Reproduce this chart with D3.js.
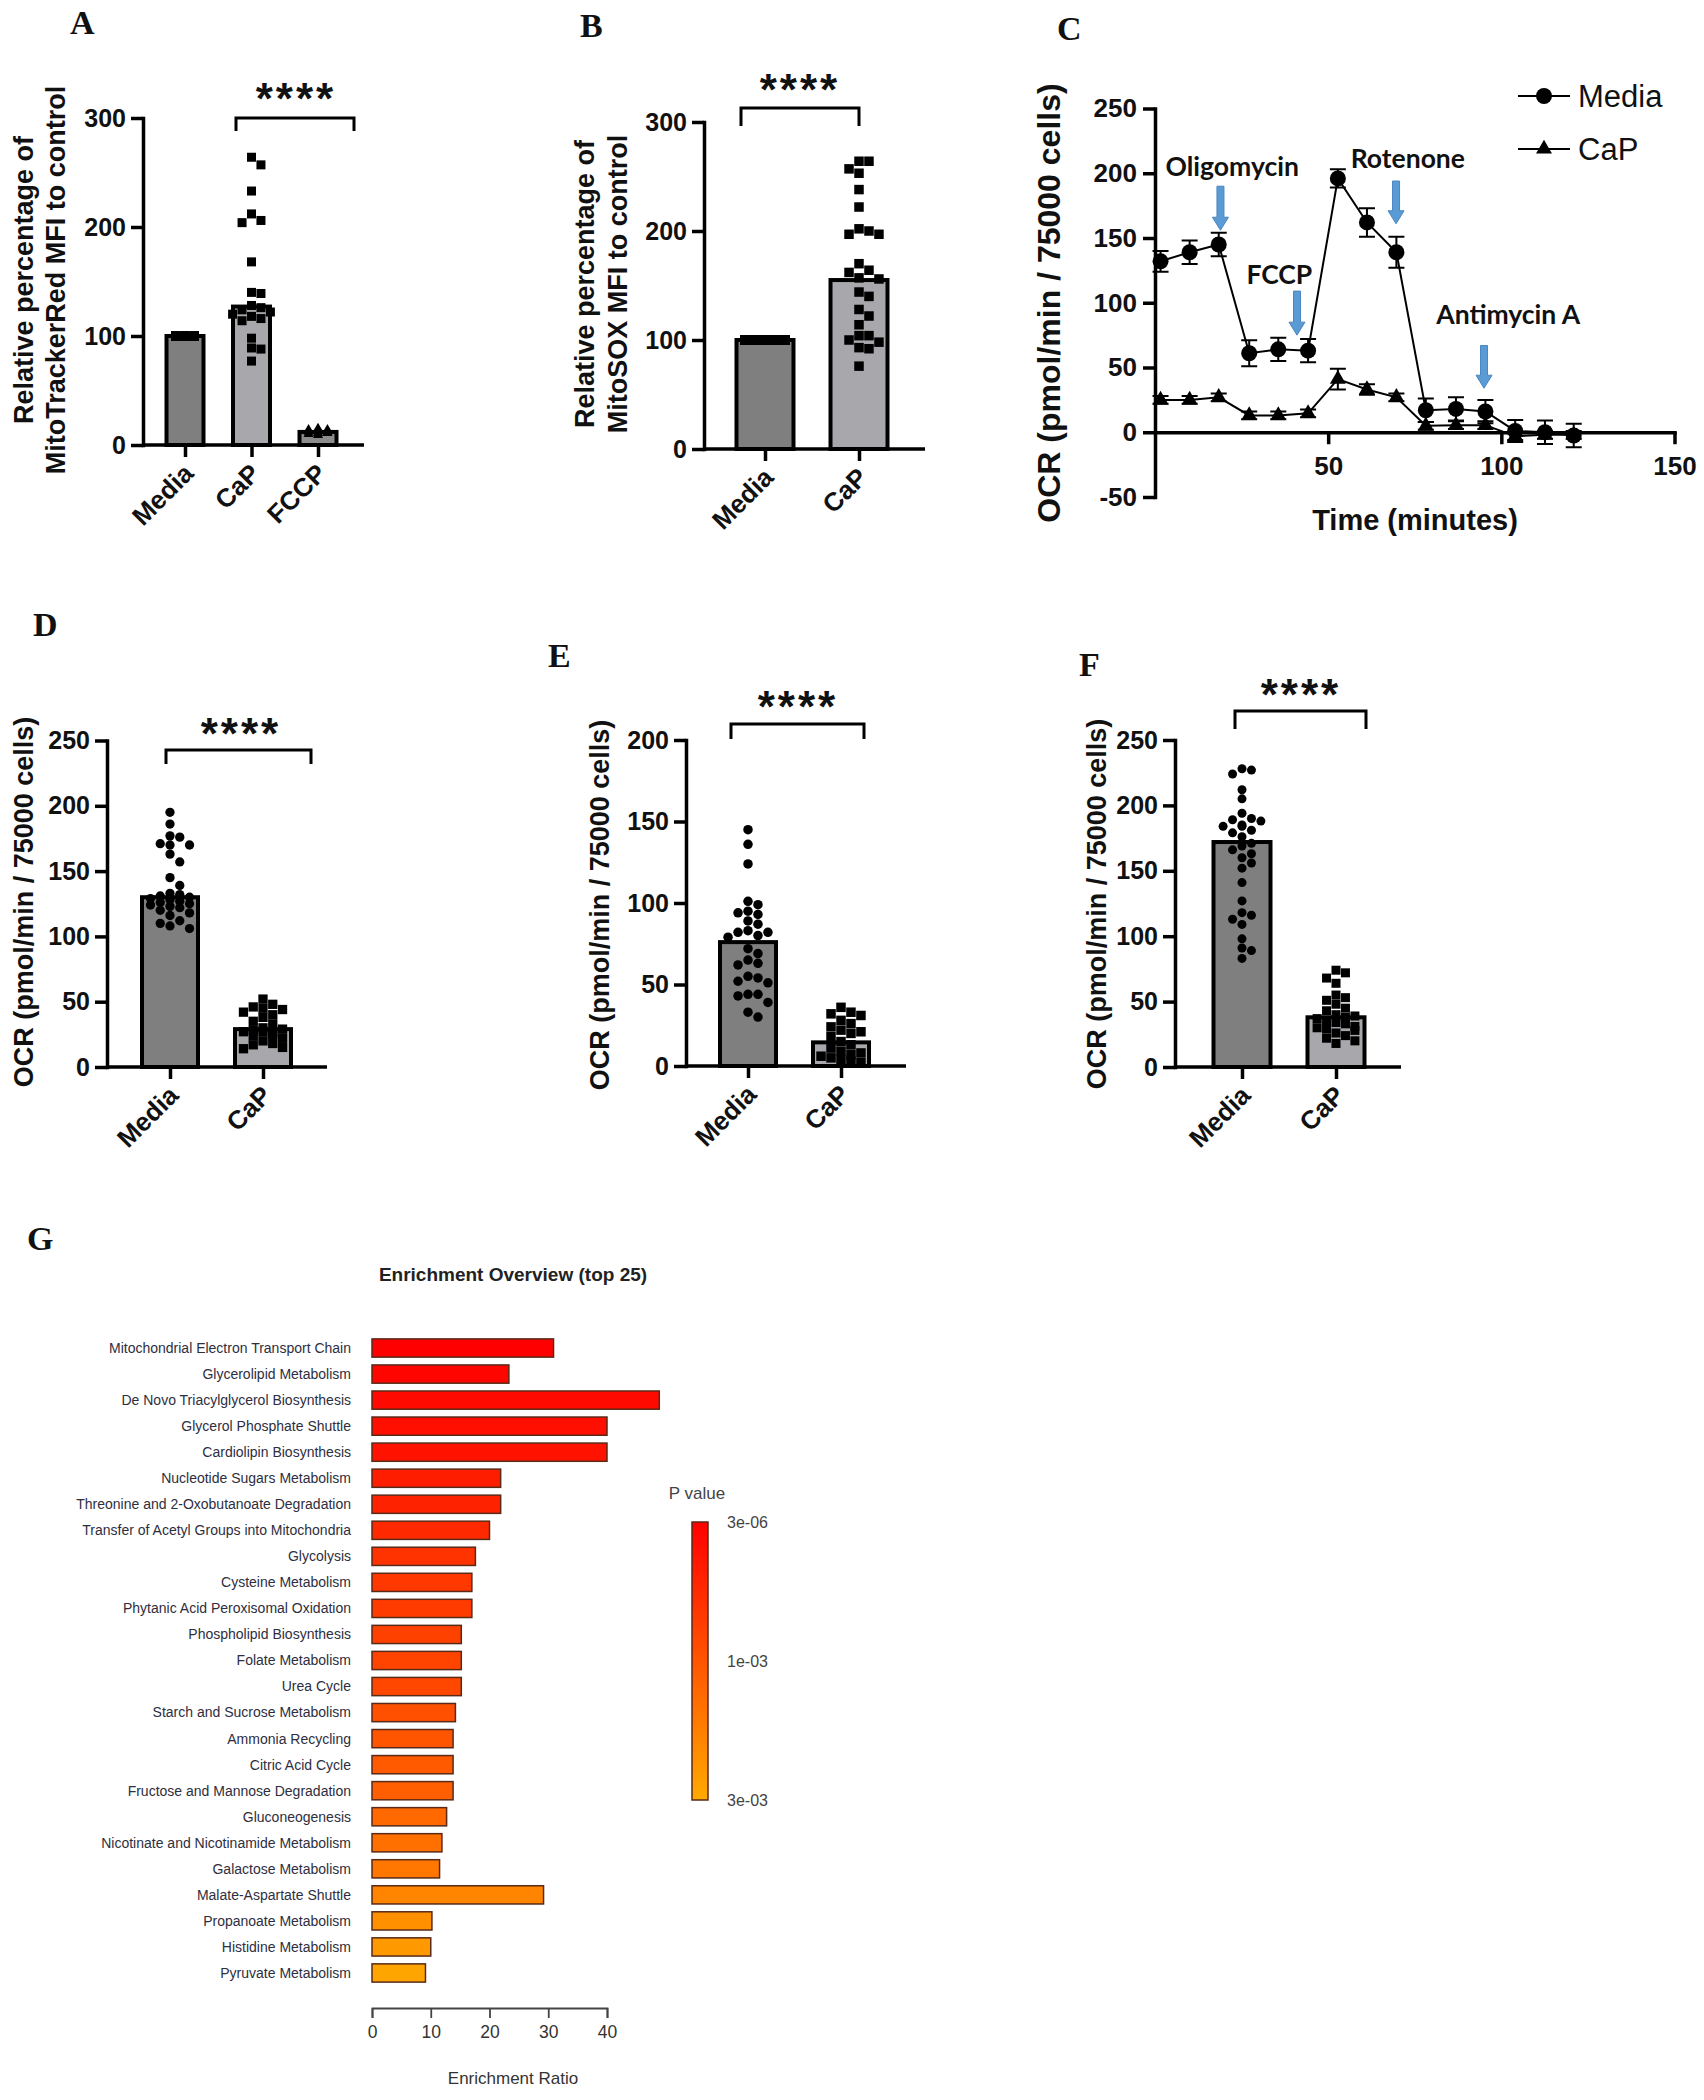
<!DOCTYPE html>
<html><head><meta charset="utf-8">
<script src="https://cdn.jsdelivr.net/npm/d3@7"></script>
<style>body{margin:0;background:#fff}svg{display:block}</style>
</head><body>
<svg id="fig" width="1704" height="2100"></svg>
<script>
// ---------------- DATA ----------------
const groups2 = ["Media", "CaP"];
const groups3 = ["Media", "CaP", "FCCP"];

// Panel A: MitoTrackerRed (% of control)
const aBars = [100, 127, 12];
const aMedia = [100,100,100,100,100,100,100,100,100,100,100,100,100,100,100,100,100,100,100,100,100];
const aCaP = [264,257,233,212,206,204,168,140,139,128,126,124,122,120,118,116,114,98,89,88,77];
const aFCCP = [14,12,15,11,13,10,12,14,9,11];
const aTicks = [0,100,200,300];

// Panel B: MitoSOX (% of control)
const bBars = [100, 155];
const bMedia = [100,100,100,100,100,100,100,100,100,100,100,100,100,100,100,100,100,100,100,100,100,100,100,100,100,100,100];
const bCaP = [264,264,257,253,238,222,202,200,197,197,170,164,162,157,156,144,140,128,122,114,104,104,100,98,93,92,76];
const bTicks = [0,100,200,300];

// Panel C: OCR time course
const cTime = [1.6,10,18.4,27.2,35.6,44.2,52.8,61.2,69.7,78.2,86.9,95.4,104,112.6,120.9];
const cMedia = [132,139,145,61,64,63,196,162,139,17,18,16,1,0,-2.5];
const cMediaErr = [8,9,9,10,9,9,7,11,12,9,9,9,8.5,9,9];
const cCaP = [25,25,27,13,13,14.6,41,33,27,5,5.5,5.5,-3,-2,-2];
const cCaPErr = [3,3,3,3,3,3,8,4,3,3,3,3,3,3,3];
const cYTicks = [-50,0,50,100,150,200,250];
const cXTicks = [50,100,150];
const cInjections = ["Oligomycin","FCCP","Rotenone","Antimycin A"];
const cInjTime = [18.9, 41, 69.6, 95];
const cArrowTop = [190, 109, 194, 67];
const cArrowBottom = [156, 75, 161, 34];
const cLabelTime = [22.3, 35.9, 73, 102];
const cLabelVal = [205, 122, 211, 91];

// Panel D: basal OCR
const dBars = [130, 29];
const dMedia = [195,186,177,176,171,170,170,163,157,145,139,133,132,131,130,129,128,127,126,125,124,123,122,120,118,116,112,110,108,106];
const dCaP = [52,48,46,45,44,42,40,38,35,33,30,29,28,27,27,26,25,24,22,20,18,17,15,14];
const dTicks = [0,50,100,150,200,250];

// Panel E: ATP-linked OCR
const eBars = [76, 14.5];
const eMedia = [145,136,124,101,99,95,94,93,89,87,83,82,82,80,79,72,69,65,63,62,55,54,52,51,44,44,43,39,33,30];
const eCaP = [36,33,32,31,28,26,24,22,21,20,18,15,13,11,9,8,7,6,5,4,3,2];
const eTicks = [0,50,100,150,200];

// Panel F: maximal OCR
const fBars = [172, 38];
const fMedia = [228,227,224,212,205,194,190,189,188,185,184,184,181,179,176,171,169,166,163,160,156,152,141,127,118,116,113,109,98,91,89,83];
const fCaP = [74,72,68,64,55,53,51,48,45,43,40,39,38,37,35,34,33,31,30,29,28,26,24,22,20,18];
const fTicks = [0,50,100,150,200,250];

// Panel G: enrichment overview
const gPathways = ["Mitochondrial Electron Transport Chain","Glycerolipid Metabolism","De Novo Triacylglycerol Biosynthesis","Glycerol Phosphate Shuttle","Cardiolipin Biosynthesis","Nucleotide Sugars Metabolism","Threonine and 2-Oxobutanoate Degradation","Transfer of Acetyl Groups into Mitochondria","Glycolysis","Cysteine Metabolism","Phytanic Acid Peroxisomal Oxidation","Phospholipid Biosynthesis","Folate Metabolism","Urea Cycle","Starch and Sucrose Metabolism","Ammonia Recycling","Citric Acid Cycle","Fructose and Mannose Degradation","Gluconeogenesis","Nicotinate and Nicotinamide Metabolism","Galactose Metabolism","Malate-Aspartate Shuttle","Propanoate Metabolism","Histidine Metabolism","Pyruvate Metabolism"];
const gRatio = [30.9,23.3,48.9,40,40,21.9,21.9,20,17.6,17,17,15.2,15.2,15.2,14.2,13.8,13.8,13.8,12.7,11.9,11.5,29.2,10.2,10.0,9.1];
const gPValue = [3e-6,6.3e-5,1.2e-4,1.8e-4,2.2e-4,3.4e-4,4.0e-4,4.8e-4,6.0e-4,6.6e-4,7.0e-4,7.6e-4,8.0e-4,8.4e-4,9.4e-4,1.0e-3,1.12e-3,1.24e-3,1.48e-3,1.64e-3,1.8e-3,2.12e-3,2.4e-3,2.6e-3,2.88e-3];
const gRatioTicks = [0,10,20,30,40];
const gPTicks = [3e-6, 1e-3, 3e-3];
const gPTickLabels = ["3e-06","1e-03","3e-03"];

// ---------------- DRAWING ----------------
const svg = d3.select("#fig");
svg.append("rect").attr("width",1704).attr("height",2100).attr("fill","#fff");
const SANS = "'Liberation Sans', Arial, Helvetica, sans-serif";
const SERIF = "'Liberation Serif', 'Times New Roman', serif";
const plain = d => String(d);

function letter(x, y, t) {
  svg.append("text").attr("x", x).attr("y", y).text(t)
    .attr("font-family", SERIF).attr("font-weight", "bold").attr("font-size", 34).attr("fill", "#111");
}

function beeswarm(vals, yS, size, maxHalf) {
  const placed = [];
  const d = size * 1.05;
  const cands = [0];
  for (let k = 1; k * d <= maxHalf; k++) cands.push(k * d, -k * d);
  const order = vals.map((v, i) => ({v, i})).sort((a, b) => b.v - a.v);
  const out = new Array(vals.length);
  let of = 0;
  order.forEach(o => {
    const py = yS(o.v);
    let ch = null;
    for (const c of cands) {
      if (placed.every(p => Math.hypot(p.x - c, p.y - py) >= size * 0.98)) { ch = c; break; }
    }
    if (ch === null) ch = cands[(of++) % cands.length];
    placed.push({x: ch, y: py});
    out[o.i] = {dx: ch, y: py};
  });
  return out;
}

function drawMarker(g, shape, x, y, s) {
  if (shape === "square") {
    g.append("rect").attr("x", x - s/2).attr("y", y - s/2).attr("width", s).attr("height", s).attr("fill", "#000");
  } else if (shape === "circle") {
    g.append("circle").attr("cx", x).attr("cy", y).attr("r", s/2).attr("fill", "#000");
  } else {
    g.append("path").attr("transform", `translate(${x},${y})`)
      .attr("d", d3.symbol(d3.symbolTriangle, s * s * 0.55)()).attr("fill", "#000");
  }
}

function styleAxis(g, w) {
  g.select(".domain").attr("stroke", "#000").attr("stroke-width", w).attr("stroke-linecap", "square");
  g.selectAll(".tick line").attr("stroke", "#000").attr("stroke-width", w);
}

function barPanel(c) {
  const g = svg.append("g");
  const y = d3.scaleLinear().domain([0, c.yMax]).range([c.y0, c.yTop]);
  const x = d3.scalePoint().domain(c.cats).range(c.cRange);
  c.bars.forEach((v, i) => {
    const cx = x(c.cats[i]);
    g.append("rect").attr("x", cx - c.barW/2).attr("y", y(v)).attr("width", c.barW)
      .attr("height", y(0) - y(v)).attr("fill", c.fills[i]).attr("stroke", "#000").attr("stroke-width", 4);
  });
  c.points.forEach((vals, i) => {
    const cx = x(c.cats[i]);
    const sw = beeswarm(vals, y, c.ptSize, c.spread[i]);
    sw.forEach(p => drawMarker(g, c.shapes[i], cx + p.dx, p.y, c.ptSize));
  });
  const ya = g.append("g").attr("transform", `translate(${c.axisX},0)`)
    .call(d3.axisLeft(y).tickValues(c.ticks).tickFormat(plain).tickSize(12).tickSizeOuter(0).tickPadding(5));
  styleAxis(ya, 3.5);
  ya.selectAll(".tick text").attr("font-family", SANS).attr("font-weight", "bold").attr("font-size", c.tickFont).attr("fill", "#111");
  g.append("line").attr("x1", c.axisX).attr("x2", c.xEnd).attr("y1", y(0)).attr("y2", y(0))
    .attr("stroke", "#000").attr("stroke-width", 3.5);
  const xa = g.append("g").attr("transform", `translate(0,${y(0)})`)
    .call(d3.axisBottom(x).tickSize(12).tickFormat(""));
  xa.select(".domain").remove();
  xa.selectAll(".tick line").attr("stroke", "#000").attr("stroke-width", 3.5);
  c.cats.forEach(cat => {
    const tx = x(cat) + 10, ty = y(0) + 30;
    g.append("text").attr("transform", `translate(${tx},${ty}) rotate(-45)`).attr("text-anchor", "end")
      .attr("font-family", SANS).attr("font-weight", "bold").attr("font-size", 26).attr("fill", "#111").text(cat);
  });
  c.ylab.forEach((t, i) => {
    g.append("text").attr("transform", `translate(${c.ylabX[i]},${c.ylabY}) rotate(-90)`)
      .attr("text-anchor", "middle").attr("dy", "0.35em")
      .attr("font-family", SANS).attr("font-weight", "bold").attr("font-size", c.ylabSize).attr("fill", "#111").text(t);
  });
  const b = c.bracket;
  g.append("path").attr("d", `M${b[0]},${b[3]}V${b[2]}H${b[1]}V${b[3]}`)
    .attr("fill", "none").attr("stroke", "#000").attr("stroke-width", 3);
  g.append("text").attr("x", c.stars[0]).attr("y", c.stars[1] + 24).attr("text-anchor", "middle")
    .attr("font-family", SANS).attr("font-weight", "bold").attr("font-size", 44).attr("letter-spacing", 3)
    .attr("fill", "#111").text("****");
}

// ---- A ----
letter(70, 34, "A");
barPanel({axisX:143, xEnd:364, y0:445, yTop:118, yMax:300, ticks:aTicks, cats:groups3, cRange:[185,318],
  barW:37, bars:aBars, fills:["#7f7f7f","#a7a7ac","#8c8c8c"], points:[aMedia,aCaP,aFCCP],
  shapes:["square","square","triangle"], ptSize:9, spread:[16,20,18], tickFont:25,
  ylab:["Relative percentage of","MitoTrackerRed MFI to control"], ylabX:[24,56], ylabY:280, ylabSize:27,
  bracket:[236,354,118,131], stars:[296,90]});

// ---- B ----
letter(580, 37, "B");
barPanel({axisX:704, xEnd:925, y0:449, yTop:122, yMax:300, ticks:bTicks, cats:groups2, cRange:[765,859],
  barW:57, bars:bBars, fills:["#7f7f7f","#a7a7ac"], points:[bMedia,bCaP],
  shapes:["square","square"], ptSize:9.5, spread:[26,28], tickFont:25,
  ylab:["Relative percentage of","MitoSOX MFI to control"], ylabX:[585,618], ylabY:284, ylabSize:27,
  bracket:[741,859,108,126], stars:[800,81]});

// ---- D ----
letter(33, 636, "D");
barPanel({axisX:107, xEnd:327, y0:1067, yTop:740.5, yMax:250, ticks:dTicks, cats:groups2, cRange:[170,263],
  barW:56, bars:dBars, fills:["#7f7f7f","#a7a7ac"], points:[dMedia,dCaP],
  shapes:["circle","square"], ptSize:9.3, spread:[28,28], tickFont:25,
  ylab:["OCR (pmol/min / 75000 cells)"], ylabX:[24], ylabY:902, ylabSize:27,
  bracket:[166,311,750,764], stars:[241,725]});

// ---- E ----
letter(548, 667, "E");
barPanel({axisX:686, xEnd:906, y0:1066, yTop:740, yMax:200, ticks:eTicks, cats:groups2, cRange:[748,841],
  barW:56, bars:eBars, fills:["#7f7f7f","#a7a7ac"], points:[eMedia,eCaP],
  shapes:["circle","square"], ptSize:9.5, spread:[28,28], tickFont:25,
  ylab:["OCR (pmol/min / 75000 cells)"], ylabX:[600], ylabY:905, ylabSize:27,
  bracket:[731,864,724,739], stars:[798,698]});

// ---- F ----
letter(1079, 676, "F");
barPanel({axisX:1175, xEnd:1401, y0:1067, yTop:740, yMax:250, ticks:fTicks, cats:groups2, cRange:[1242,1336],
  barW:57, bars:fBars, fills:["#7f7f7f","#a7a7ac"], points:[fMedia,fCaP],
  shapes:["circle","square"], ptSize:9, spread:[28,28], tickFont:25,
  ylab:["OCR (pmol/min / 75000 cells)"], ylabX:[1097], ylabY:904, ylabSize:27,
  bracket:[1235,1366,711,729], stars:[1301,686]});

// ---- C ----
letter(1057, 40, "C");
(function(){
  const g = svg.append("g");
  const x = d3.scaleLinear().domain([0,150]).range([1155,1674.5]);
  const y = d3.scaleLinear().domain([-50,250]).range([497,108.5]);
  const ya = g.append("g").attr("transform","translate(1155,0)")
    .call(d3.axisLeft(y).tickValues(cYTicks).tickFormat(plain).tickSize(12).tickSizeOuter(0).tickPadding(6));
  styleAxis(ya, 3.5);
  ya.selectAll(".tick text").attr("font-family",SANS).attr("font-weight","bold").attr("font-size",26).attr("fill","#111");
  const xa = g.append("g").attr("transform",`translate(0,${y(0)})`)
    .call(d3.axisBottom(x).tickValues(cXTicks).tickFormat(plain).tickSize(12).tickSizeOuter(0).tickPadding(12));
  styleAxis(xa, 3.5);
  xa.selectAll(".tick text").attr("font-family",SANS).attr("font-weight","bold").attr("font-size",26).attr("fill","#111");
  const line = d3.line().x((d,i)=>x(cTime[i])).y(d=>y(d));
  g.append("path").attr("d", line(cCaP)).attr("fill","none").attr("stroke","#000").attr("stroke-width",2);
  g.append("path").attr("d", line(cMedia)).attr("fill","none").attr("stroke","#000").attr("stroke-width",2);
  function err(vals, errs) {
    vals.forEach((v,i)=>{
      const cx = x(cTime[i]), t = y(v+errs[i]), b = y(v-errs[i]);
      g.append("path").attr("d",`M${cx},${t}V${b}M${cx-8},${t}H${cx+8}M${cx-8},${b}H${cx+8}`)
        .attr("stroke","#000").attr("stroke-width",2).attr("fill","none");
    });
  }
  err(cCaP, cCaPErr);
  err(cMedia, cMediaErr);
  cCaP.forEach((v,i)=>g.append("path").attr("transform",`translate(${x(cTime[i])},${y(v)})`)
    .attr("d", d3.symbol(d3.symbolTriangle, 110)()).attr("fill","#000"));
  cMedia.forEach((v,i)=>g.append("circle").attr("cx",x(cTime[i])).attr("cy",y(v)).attr("r",8).attr("fill","#000"));
  cInjections.forEach((name,i)=>{
    const ax = x(cInjTime[i]), t = y(cArrowTop[i]), b = y(cArrowBottom[i]);
    g.append("path").attr("d",`M${ax-3.5},${t}H${ax+3.5}V${b-13}H${ax+8}L${ax},${b}L${ax-8},${b-13}H${ax-3.5}Z`)
      .attr("fill","#5b9bd5").attr("stroke","#4a86c0").attr("stroke-width",1);
    g.append("text").attr("x",x(cLabelTime[i])).attr("y",y(cLabelVal[i])).attr("dy","0.35em")
      .attr("text-anchor","middle").attr("font-family","Lato, 'Open Sans', sans-serif").attr("font-weight","bold")
      .attr("font-size",26.5).attr("fill","#111").text(name);
  });
  g.append("text").attr("transform","translate(1049,303) rotate(-90)").attr("text-anchor","middle").attr("dy","0.35em")
    .attr("font-family",SANS).attr("font-weight","bold").attr("font-size",32).attr("fill","#111").text("OCR (pmol/min / 75000 cells)");
  g.append("text").attr("x",1415).attr("y",520).attr("dy","0.35em").attr("text-anchor","middle")
    .attr("font-family",SANS).attr("font-weight","bold").attr("font-size",29).attr("fill","#111").text("Time (minutes)");
  const leg = [{n:"Media", y:96, s:"circle"},{n:"CaP", y:149, s:"triangle"}];
  leg.forEach(l=>{
    g.append("line").attr("x1",1518).attr("x2",1570).attr("y1",l.y).attr("y2",l.y).attr("stroke","#000").attr("stroke-width",2);
    if (l.s==="circle") g.append("circle").attr("cx",1544).attr("cy",l.y).attr("r",8).attr("fill","#000");
    else g.append("path").attr("transform",`translate(1544,${l.y})`).attr("d",d3.symbol(d3.symbolTriangle,110)()).attr("fill","#000");
    g.append("text").attr("x",1578).attr("y",l.y).attr("dy","0.35em").attr("font-family",SANS)
      .attr("font-size",31).attr("fill","#111").text(l.n);
  });
})();

// ---- G ----
letter(27, 1250, "G");
(function(){
  const g = svg.append("g");
  const x = d3.scaleLinear().domain([0,40]).range([372,607]);
  const y = d3.scaleBand().domain(gPathways).range([1335,1986]).paddingInner(0.3).paddingOuter(0.15);
  const pos = d3.scaleLinear().domain(gPTicks).range([1522,1661,1800]);
  const col = d3.scaleLinear().domain(gPTicks).range(["#ff0000","#ff5500","#ffaa00"]);
  g.append("text").attr("x",513).attr("y",1274).attr("dy","0.35em").attr("text-anchor","middle")
    .attr("font-family",SANS).attr("font-weight","bold").attr("font-size",19).attr("fill","#222")
    .text("Enrichment Overview (top 25)");
  gPathways.forEach((p,i)=>{
    g.append("rect").attr("x",x(0)).attr("y",y(p)).attr("width",x(gRatio[i])-x(0)).attr("height",y.bandwidth())
      .attr("fill",col(gPValue[i])).attr("stroke","#5a2a18").attr("stroke-width",1.5);
    g.append("text").attr("x",351).attr("y",y(p)+y.bandwidth()/2).attr("dy","0.35em").attr("text-anchor","end")
      .attr("font-family",SANS).attr("font-size",14).attr("fill","#2e2e3e").text(p);
  });
  const xa = g.append("g").attr("transform","translate(0,2008)")
    .call(d3.axisBottom(x).tickValues(gRatioTicks).tickSize(10).tickSizeOuter(10).tickPadding(8));
  xa.select(".domain").attr("stroke","#444").attr("stroke-width",1.8);
  xa.selectAll(".tick line").attr("stroke","#444").attr("stroke-width",1.8);
  xa.selectAll(".tick text").attr("font-family",SANS).attr("font-size",17.5).attr("fill","#333");
  g.append("text").attr("x",513).attr("y",2078).attr("dy","0.35em").attr("text-anchor","middle")
    .attr("font-family",SANS).attr("font-size",17).attr("fill","#333").text("Enrichment Ratio");
  const defs = svg.append("defs");
  const grad = defs.append("linearGradient").attr("id","pgrad").attr("x1",0).attr("x2",0).attr("y1",0).attr("y2",1);
  gPTicks.forEach(v=>grad.append("stop").attr("offset",(pos(v)-1522)/(1800-1522)).attr("stop-color",col(v)));
  g.append("rect").attr("x",692).attr("y",pos(gPTicks[0])).attr("width",16).attr("height",pos(gPTicks[2])-pos(gPTicks[0]))
    .attr("fill","url(#pgrad)").attr("stroke","#5a2a18").attr("stroke-width",1.5);
  g.append("text").attr("x",697).attr("y",1493).attr("dy","0.35em").attr("text-anchor","middle")
    .attr("font-family",SANS).attr("font-size",17).attr("fill","#444").text("P value");
  gPTicks.forEach((v,i)=>g.append("text").attr("x",727).attr("y",pos(v)).attr("dy","0.35em")
    .attr("font-family",SANS).attr("font-size",16).attr("fill","#444").text(gPTickLabels[i]));
})();
</script>
</body></html>
